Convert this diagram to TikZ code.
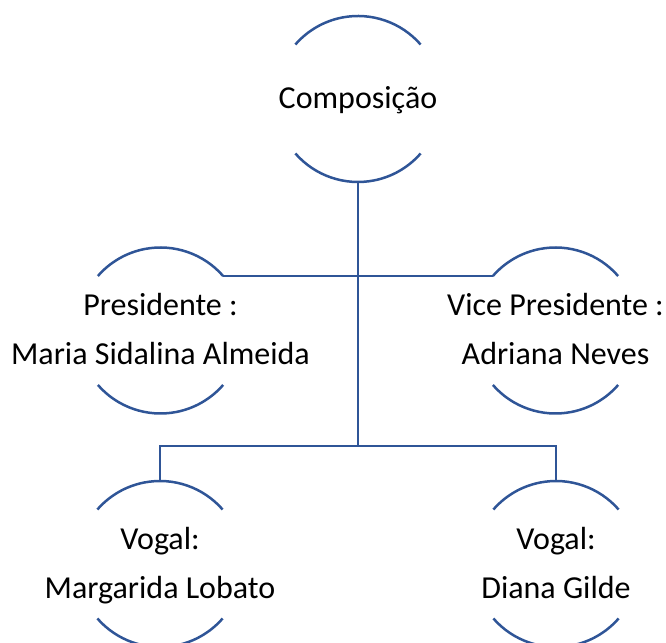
\documentclass[tikz,border=0pt]{standalone}
\usepackage{fontspec}
\setmainfont{Carlito}
\definecolor{lineblue}{RGB}{47,85,151}
\begin{document}
\begin{tikzpicture}[x=1pt,y=1pt,
  lbl/.style={align=center, font=\fontsize{32}{49}\selectfont, inner sep=0pt, text=black},
  ring/.style={draw=lineblue, line width=2.5pt},
  link/.style={draw=lineblue, line width=2.5pt}]
\useasboundingbox (0,0) rectangle (666,642);
\clip (0,0) rectangle (666,642);
% circle centres
\coordinate (cComp) at (358,543);
\coordinate (cPres) at (160.5,311.5);
\coordinate (cVice) at (555.5,311.5);
\coordinate (cVa) at (160,78);
\coordinate (cVb) at (556,78);
\coordinate (busB) at (358,196);
% labels
\node[lbl] (comp) at (cComp) {\strut Composição};
\node[lbl] (pres) at (cPres) {\strut Presidente :\\\strut Maria Sidalina Almeida};
\node[lbl] (vice) at (cVice) {\strut Vice Presidente :\\\strut Adriana Neves};
\node[lbl] (va) at (cVa) {\strut Vogal:\\\strut Margarida Lobato};
\node[lbl] (vb) at (cVb) {\strut Vogal:\\\strut Diana Gilde};
% arcs
\foreach \c in {cComp,cPres,cVice,cVa,cVb}{
  \draw[ring] ([shift={(41:83)}]\c) arc[start angle=41,end angle=139,radius=83];
  \draw[ring] ([shift={(221:83)}]\c) arc[start angle=221,end angle=319,radius=83];
}
% connectors
\draw[link] ([yshift=-83pt]cComp) -- (busB);
\draw[link] ([shift={(41:83)}]cPres) -- ([shift={(139:83)}]cVice);
\draw[link] ([yshift=83pt]cVa) |- (busB) -| ([yshift=83pt]cVb);
\end{tikzpicture}
\end{document}
